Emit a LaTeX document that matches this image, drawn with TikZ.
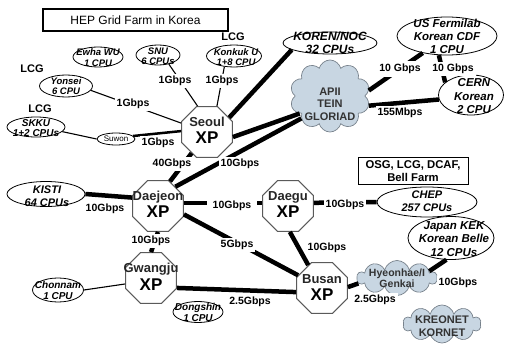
\documentclass[tikz,border=0pt]{standalone}
\usepackage{fontspec}
\setmainfont{Liberation Sans}
\usetikzlibrary{shapes.geometric,shapes.symbols}
\definecolor{cloudfill}{RGB}{200,214,226}
\definecolor{cloudline}{RGB}{120,130,140}
\definecolor{octline}{RGB}{90,90,90}
\tikzset{
 octa/.style={draw=octline, line width=1pt, fill=white, regular polygon, regular polygon sides=8, minimum size=55pt, inner sep=0pt},
 cityname/.style={font=\fontsize{13}{13}\selectfont\bfseries, text=black!85, inner sep=0pt},
 xp/.style={font=\fontsize{17}{17}\selectfont\bfseries, inner sep=0pt},
 site/.style={draw, ellipse, fill=white, line width=0.8pt, inner sep=0pt},
 sitetext/.style={font=\fontsize{11}{13}\selectfont\bfseries\itshape, align=center, inner sep=0pt},
 smalltext/.style={font=\fontsize{9.5}{10.5}\selectfont\bfseries\itshape, align=center, inner sep=0pt},
 netcloud/.style={cloud, cloud puffs=10, cloud ignores aspect, draw=cloudline, fill=cloudfill, line width=0.7pt, inner sep=0pt},
 cloudtext/.style={font=\fontsize{11}{12.5}\selectfont\bfseries, align=center, inner sep=0pt, text=black!80},
 bw/.style={font=\fontsize{10.5}{11}\selectfont\bfseries, fill=white, inner sep=2pt},
 lcg/.style={font=\fontsize{11}{11}\selectfont\bfseries, inner sep=0pt},
 fatlink/.style={line width=4.5pt},
 midlink/.style={line width=2.5pt},
 thinlink/.style={line width=1.1pt},
}
\begin{document}
\begin{tikzpicture}[x=1pt,y=-1pt]
\useasboundingbox (0,0) rectangle (506,350);
% boxes
\node[draw, line width=1.5pt, minimum width=185pt, minimum height=22pt, inner sep=0pt, font=\fontsize{12}{12}\selectfont] (title) at (135.5,20) {HEP Grid Farm in Korea};
\node[draw, line width=1pt, minimum width=110pt, minimum height=27pt, inner sep=0pt, align=center, font=\fontsize{11.3}{12.5}\selectfont\bfseries] (osg) at (413,171) {OSG, LCG, DCAF,\\Bell Farm};
% sites
\node[site, minimum width=50pt, minimum height=20pt] (ewha) at (98,57) {};
\node[site, minimum width=44pt, minimum height=20pt] (snu) at (158,55) {};
\node[site, minimum width=55pt, minimum height=22pt] (konkuk) at (234,56) {};
\node[site, minimum width=53pt, minimum height=22pt] (yonsei) at (66,86) {};
\node[site, minimum width=58pt, minimum height=20pt] (skku) at (36,127) {};
\node[site, minimum width=38pt, minimum height=12pt] (suwon) at (116,139) {};
\node[site, minimum width=94pt, minimum height=22pt] (koren) at (330,43) {};
\node[site, minimum width=100pt, minimum height=38pt] (fermi) at (447,36) {};
\node[site, minimum width=65pt, minimum height=40pt] (cern) at (471,95) {};
\node[site, minimum width=78pt, minimum height=25pt] (kisti) at (46,194) {};
\node[site, minimum width=100pt, minimum height=30pt] (chep) at (427,202) {};
\node[site, minimum width=86pt, minimum height=43pt] (japan) at (451,238) {};
\node[site, minimum width=51pt, minimum height=24pt] (chonnam) at (58,290) {};
\node[site, minimum width=50pt, minimum height=21pt] (dongshin) at (198,312) {};
% clouds
\node[netcloud, minimum width=80pt, minimum height=72pt] (apii) at (330,96) {};
\node[netcloud, minimum width=80pt, minimum height=35pt] (hyeon) at (397,278) {};
\node[netcloud, minimum width=78pt, minimum height=38pt] (kreonet) at (442,324) {};
% exchange points
\node[octa] (seoul) at (207,132) {};
\node[octa] (daejeon) at (158,206) {};
\node[octa] (daegu) at (288,206) {};
\node[octa] (busan) at (322,288) {};
\node[octa] (gwangju) at (151,278) {};
% links
\draw[thinlink] (snu.-40) -- (seoul.110);
\draw[thinlink] (konkuk.-132) -- (seoul.69);
\draw[thinlink] (yonsei.-10) -- (seoul.161);
\draw[thinlink] (skku.-10) -- (suwon.west);
\draw[midlink] (suwon.10) -- (seoul.178);
\draw[fatlink] (koren.-170) -- (seoul.33);
\draw[fatlink] (seoul.-11) -- (apii.-150);
\draw[fatlink] (seoul.-126) -- (daejeon.64);
\draw[fatlink] (daejeon.48) -- (apii.-142);
\draw[fatlink] (kisti.east) -- (daejeon.162);
\draw[fatlink] (daejeon.7) -- (daegu.173);
\draw[fatlink] (daegu.7) -- (chep.west);
\draw[fatlink] (daejeon.south) -- (gwangju.north);
\draw[fatlink] (daejeon.-18) -- (busan.152);
\draw[fatlink] (daegu.-86) -- (busan.121);
\draw[fatlink] (gwangju.-21) -- (busan.-171);
\draw[thinlink] (chonnam.east) -- (gwangju.-167);
\draw[fatlink] (busan.2) -- (hyeon.-172);
\draw[fatlink] (hyeon.12) -- (japan.-102);
\draw[fatlink] (apii.8) -- (fermi.-145);
\draw[fatlink] (fermi.-113) -- (cern.154);
\draw[fatlink] (apii.-14) -- (cern.-172);
% site texts
\node[smalltext] (ewhaT) at (98,57.5) {Ewha WU\\1 CPU};
\node[smalltext] (snuT) at (158,56) {SNU\\6 CPUs};
\node[smalltext] (konkukT) at (236,57) {Konkuk U\\1+8 CPU};
\node[smalltext] (yonseiT) at (66,86) {Yonsei\\6 CPU};
\node[smalltext, font=\fontsize{10}{10.5}\selectfont\bfseries\itshape] (skkuT) at (36,128) {SKKU\\1+2 CPUs};
\node[inner sep=0pt, font=\fontsize{8}{8}\selectfont] (suwonT) at (116,139) {Suwon};
\node[sitetext, font=\fontsize{12}{13.5}\selectfont\bfseries\itshape] (korenT) at (330,42.5) {KOREN/NOC\\32 CPUs};
\node[sitetext, font=\fontsize{11.5}{13}\selectfont\bfseries\itshape] (fermiT) at (447,36) {US Fermilab\\Korean CDF\\1 CPU};
\node[sitetext, font=\fontsize{11.5}{13.5}\selectfont\bfseries\itshape] (cernT) at (474,96.5) {CERN\\Korean\\2 CPU};
\node[sitetext] (kistiT) at (47,196) {KISTI\\64 CPUs};
\node[sitetext] (chepT) at (427,201.5) {CHEP\\257 CPUs};
\node[sitetext, font=\fontsize{11.5}{13.5}\selectfont\bfseries\itshape] (japanT) at (454,239) {Japan KEK\\Korean Belle\\12 CPUs};
\node[sitetext, font=\fontsize{10}{11}\selectfont\bfseries\itshape] (chonnamT) at (58,290.5) {Chonnam\\1 CPU};
\node[sitetext, font=\fontsize{10}{11}\selectfont\bfseries\itshape] (dongshinT) at (198,312.5) {Dongshin\\1 CPU};
% cloud texts
\node[cloudtext] (apiiT) at (330,104) {APII\\TEIN\\GLORIAD};
\node[cloudtext, font=\fontsize{10.5}{10.5}\selectfont\bfseries] (hyeonT) at (397,278) {Hyeonhae/I\\Genkai};
\node[cloudtext, font=\fontsize{11}{13}\selectfont\bfseries] (kreonetT) at (442,326) {KREONET\\KORNET};
% XP texts
\node[cityname] (seoulN) at (207,122) {Seoul};
\node[xp] (seoulX) at (207,138) {XP};
\node[cityname] (daejeonN) at (158,197) {Daejeon};
\node[xp] (daejeonX) at (158,212) {XP};
\node[cityname] (daeguN) at (288,197) {Daegu};
\node[xp] (daeguX) at (288,212) {XP};
\node[cityname] (busanN) at (322,279) {Busan};
\node[xp] (busanX) at (322,295) {XP};
\node[cityname] (gwangjuN) at (151,269) {Gwangju};
\node[xp] (gwangjuX) at (151,285) {XP};
% LCG labels
\node[lcg] (lcg1) at (233,37) {LCG};
\node[lcg] (lcg2) at (32,69) {LCG};
\node[lcg] (lcg3) at (40,109) {LCG};
% link labels
\node[bw] (l1) at (175,81) {1Gbps};
\node[bw] (l2) at (222,81) {1Gbps};
\node[bw] (l3) at (133,104) {1Gbps};
\node[bw] (l4) at (158,143) {1Gbps};
\node[bw] (l5) at (172,164) {40Gbps};
\node[bw] (l6) at (240,164) {10Gbps};
\node[bw] (l7) at (105,209) {10Gbps};
\node[bw, inner xsep=6pt] (l8) at (232,206) {10Gbps};
\node[bw] (l9) at (345,205) {10Gbps};
\node[bw] (l10) at (151,241) {10Gbps};
\node[bw] (l11) at (237,245) {5Gbps};
\node[bw] (l12) at (327,248) {10Gbps};
\node[bw] (l13) at (250,302) {2.5Gbps};
\node[bw] (l14) at (375,300) {2.5Gbps};
\node[bw] (l15) at (458,283) {10Gbps};
\node[bw, inner sep=3pt] (l16) at (400,69) {10 Gbps};
\node[bw] (l17) at (453,69) {10 Gbps};
\node[bw] (l18) at (400,113) {155Mbps};
\end{tikzpicture}
\end{document}
